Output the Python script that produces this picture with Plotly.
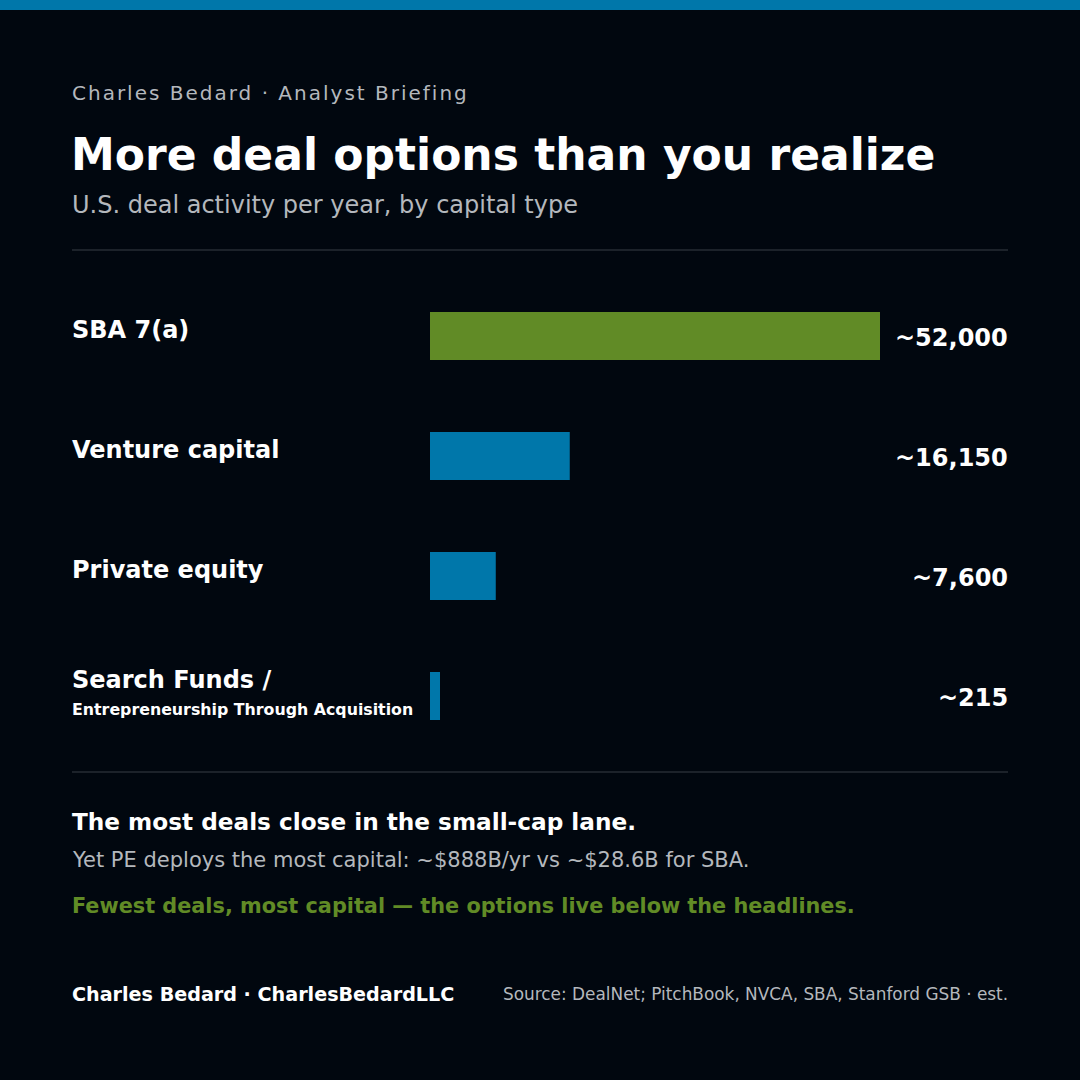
import plotly.graph_objects as go

# ---- data ----
categories = ["SBA 7(a)", "Venture capital", "Private equity", "Search Funds /"]
sublabels = ["", "", "", "Entrepreneurship Through Acquisition"]
deals = [52000, 16150, 7600, 215]
value_labels = ["~52,000", "~16,150", "~7,600", "~215"]
bar_colors = ["#618b26", "#0077aa", "#0077aa", "#0077aa"]

kicker = "Charles Bedard · Analyst Briefing"
title = "More deal options than you realize"
subtitle = "U.S. deal activity per year, by capital type"
takeaway1 = "The most deals close in the small-cap lane."
takeaway2 = "Yet PE deploys the most capital: ~$888B/yr vs ~$28.6B for SBA."
takeaway3 = "Fewest deals, most capital — the options live below the headlines."
footer_left = "Charles Bedard · CharlesBedardLLC"
footer_right = "Source: DealNet; PitchBook, NVCA, SBA, Stanford GSB · est."

# ---- styling ----
W = H = 1080
BG = "#01070f"
WHITE = "#ffffff"
GREY = "#b4b8bd"
GREEN = "#618b26"
BLUE = "#0077aa"
FONT = "DejaVu Sans"

x_max = max(deals)
min_visible = x_max * 10 / 450  # keep tiny bars visible
display = [max(v, min_visible) for v in deals]

def px(x):
    return x / W

def py(y):
    return 1 - y / H

fig = go.Figure()
fig.add_trace(go.Bar(
    x=display, y=categories, orientation="h",
    marker=dict(color=bar_colors, line=dict(width=0)),
    hoverinfo="skip", showlegend=False,
))

ann = []
def txt(x, y, s, size, color, bold=False, xanchor="left", yref="paper", yshift=0, spacing=None):
    t = f"<b>{s}</b>" if bold else s
    if spacing:
        t = f'<span style="letter-spacing:{spacing}px">{t}</span>'
    ann.append(dict(
        x=x, y=y, xref="paper", yref=yref, text=t,
        showarrow=False, xanchor=xanchor, yanchor="middle", yshift=yshift,
        xshift=(-2 if xanchor == "left" else 2),
        font=dict(family=FONT, size=size, color=color),
    ))

txt(px(72), py(93), kicker, 20, GREY, spacing=2)
txt(px(71), py(155), title, 44, WHITE, bold=True)
txt(px(72), py(205), subtitle, 24, GREY)

for i, c in enumerate(categories):
    if sublabels[i]:
        txt(px(72), c, c, 24, WHITE, bold=True, yref="y", yshift=16)
        txt(px(72), c, sublabels[i], 15.8, WHITE, bold=True, yref="y", yshift=-13)
    else:
        txt(px(72), c, c, 24, WHITE, bold=True, yref="y", yshift=6)
    txt(px(1008), c, value_labels[i], 24, WHITE, bold=True, xanchor="right", yref="y", yshift=-2)

txt(px(72), py(821), takeaway1, 23.2, WHITE, bold=True)
txt(px(72), py(860), takeaway2, 21, GREY)
txt(px(72), py(906), takeaway3, 20.8, GREEN, bold=True)
txt(px(72), py(994), footer_left, 19.15, WHITE, bold=True)
txt(px(1008), py(994), footer_right, 16.9, GREY, xanchor="right")

shapes = [
    dict(type="rect", xref="paper", yref="paper", x0=0, x1=1, y0=py(10), y1=1,
         fillcolor=BLUE, line=dict(width=0), layer="below"),
    dict(type="line", xref="paper", yref="paper", x0=px(72), x1=px(1008), y0=py(250), y1=py(250),
         line=dict(color="#262c34", width=1.5)),
    dict(type="line", xref="paper", yref="paper", x0=px(72), x1=px(1008), y0=py(772), y1=py(772),
         line=dict(color="#262c34", width=1.5)),
]

fig.update_layout(
    width=W, height=H, margin=dict(l=0, r=0, t=0, b=0),
    paper_bgcolor=BG, plot_bgcolor="rgba(0,0,0,0)",
    bargap=0.6,
    xaxis=dict(domain=[px(430), px(880)], range=[0, x_max], visible=False, fixedrange=True),
    yaxis=dict(domain=[py(756), py(276)], categoryorder="array", categoryarray=categories,
               autorange="reversed", visible=False, fixedrange=True),
    annotations=ann, shapes=shapes,
)

fig.write_html("out.html", config={"displayModeBar": False})
